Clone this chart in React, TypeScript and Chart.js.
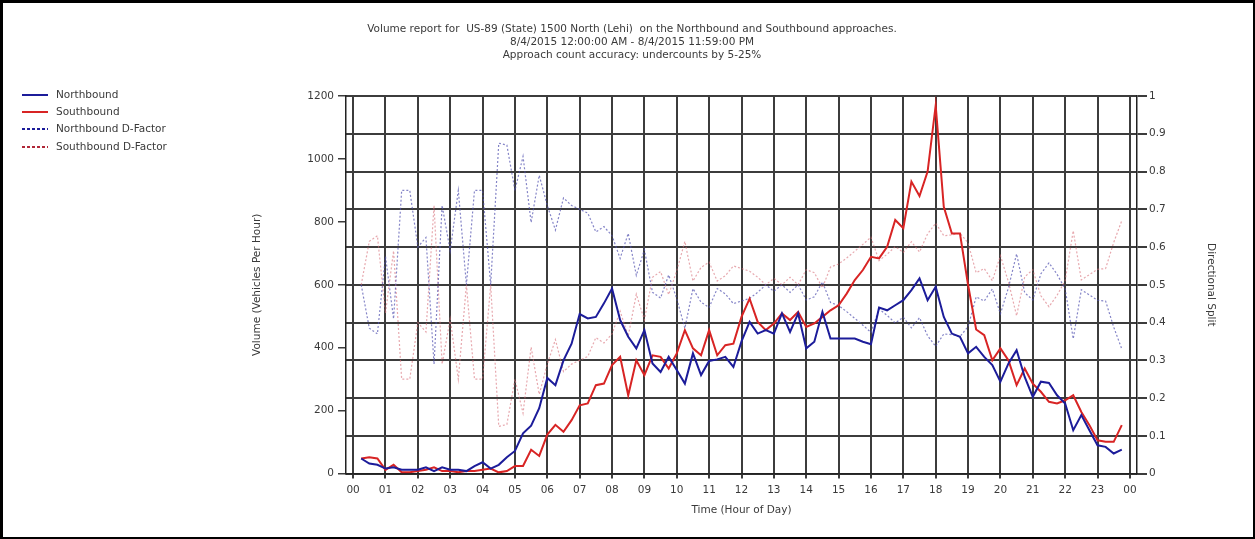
import { useEffect, useRef } from "react";
import { Chart, registerables } from "chart.js";

Chart.register(...registerables);

const TITLE_LINES = [
  "Volume report for  US-89 (State) 1500 North (Lehi)  on the Northbound and Southbound approaches.",
  "8/4/2015 12:00:00 AM - 8/4/2015 11:59:00 PM",
  "Approach count accuracy: undercounts by 5-25%",
];

const LEGEND_LABELS = ["Northbound", "Southbound", "Northbound D-Factor", "Southbound D-Factor"];

const X_TITLE = "Time (Hour of Day)";
const Y_TITLE = "Volume (Vehicles Per Hour)";
const Y2_TITLE = "Directional Split";

const HOUR_TICK_LABELS = [
  "00", "01", "02", "03", "04", "05", "06", "07", "08", "09", "10", "11", "12",
  "13", "14", "15", "16", "17", "18", "19", "20", "21", "22", "23", "00",
];

const TIMES = [
  "00:15", "00:30", "00:45",
  "01:00", "01:15", "01:30", "01:45",
  "02:00", "02:15", "02:30", "02:45",
  "03:00", "03:15", "03:30", "03:45",
  "04:00", "04:15", "04:30", "04:45",
  "05:00", "05:15", "05:30", "05:45",
  "06:00", "06:15", "06:30", "06:45",
  "07:00", "07:15", "07:30", "07:45",
  "08:00", "08:15", "08:30", "08:45",
  "09:00", "09:15", "09:30", "09:45",
  "10:00", "10:15", "10:30", "10:45",
  "11:00", "11:15", "11:30", "11:45",
  "12:00", "12:15", "12:30", "12:45",
  "13:00", "13:15", "13:30", "13:45",
  "14:00", "14:15", "14:30", "14:45",
  "15:00", "15:15", "15:30", "15:45",
  "16:00", "16:15", "16:30", "16:45",
  "17:00", "17:15", "17:30", "17:45",
  "18:00", "18:15", "18:30", "18:45",
  "19:00", "19:15", "19:30", "19:45",
  "20:00", "20:15", "20:30", "20:45",
  "21:00", "21:15", "21:30", "21:45",
  "22:00", "22:15", "22:30", "22:45",
  "23:00", "23:15", "23:30", "23:45",
];

const NORTHBOUND = [
  48, 32, 28,
  16, 20, 12, 12,
  12, 20, 8, 20,
  12, 12, 8, 24,
  36, 16, 28, 52,
  72, 128, 152, 208,
  304, 281, 360, 413,
  507, 493, 498, 541,
  588, 488, 435, 398,
  456, 350, 323, 371,
  329, 286, 382, 313,
  358, 363, 371, 339,
  420, 482, 445, 456,
  445, 509, 450, 509,
  398, 419, 514, 429,
  429, 429, 429, 419,
  411, 528, 519, 535,
  551, 583, 620, 551,
  594, 498, 445, 435,
  382, 403, 371, 345,
  292, 350, 392, 307,
  244, 292, 288, 249,
  223, 138, 186, 138,
  90, 85, 64, 76,
];

const SOUTHBOUND = [
  48, 52, 48,
  12, 28, 4, 4,
  8, 12, 20, 8,
  8, 4, 8, 8,
  12, 16, 4, 8,
  24, 24, 76, 56,
  124, 155, 133, 170,
  217, 223, 281, 286,
  345, 371, 249, 360,
  313, 376, 371, 334,
  382, 456, 398, 376,
  456, 376, 408, 413,
  498, 556, 482, 456,
  477, 509, 488, 514,
  466, 477, 498, 519,
  535, 572, 615, 647,
  689, 684, 721, 806,
  780, 928, 882, 960,
  1170, 848, 763, 763,
  600, 458, 440, 360,
  398, 360, 281, 334,
  286, 260, 228, 223,
  233, 249, 196, 154,
  106, 101, 101, 154,
];

const NORTHBOUND_DFACTOR = [
  0.5, 0.385, 0.37,
  0.575, 0.41, 0.75, 0.75,
  0.6, 0.625, 0.29, 0.71,
  0.59, 0.75, 0.5, 0.75,
  0.75, 0.5, 0.875, 0.87,
  0.75, 0.84, 0.665, 0.79,
  0.71, 0.645, 0.73, 0.71,
  0.7, 0.69, 0.64, 0.654,
  0.63, 0.57, 0.636, 0.525,
  0.593, 0.48, 0.465, 0.526,
  0.463, 0.385, 0.49, 0.454,
  0.44, 0.49, 0.476, 0.45,
  0.457, 0.464, 0.48, 0.5,
  0.483, 0.5, 0.48, 0.5,
  0.46, 0.468, 0.508, 0.453,
  0.445, 0.429, 0.411, 0.393,
  0.374, 0.436, 0.419, 0.399,
  0.414, 0.386, 0.413, 0.365,
  0.337, 0.37, 0.368, 0.363,
  0.389, 0.468, 0.457, 0.489,
  0.423, 0.493, 0.582, 0.479,
  0.46, 0.529, 0.558, 0.528,
  0.489, 0.357, 0.487, 0.473,
  0.459, 0.457, 0.388, 0.33,
];

const SOUTHBOUND_DFACTOR = [
  0.5, 0.615, 0.63,
  0.425, 0.59, 0.25, 0.25,
  0.4, 0.375, 0.71, 0.29,
  0.41, 0.25, 0.5, 0.25,
  0.25, 0.5, 0.125, 0.13,
  0.25, 0.16, 0.335, 0.21,
  0.29, 0.355, 0.27, 0.29,
  0.3, 0.31, 0.36, 0.346,
  0.37, 0.43, 0.364, 0.475,
  0.407, 0.52, 0.535, 0.474,
  0.537, 0.615, 0.51, 0.546,
  0.56, 0.51, 0.524, 0.55,
  0.543, 0.536, 0.52, 0.5,
  0.517, 0.5, 0.52, 0.5,
  0.54, 0.532, 0.492, 0.547,
  0.555, 0.571, 0.589, 0.607,
  0.626, 0.564, 0.581, 0.601,
  0.586, 0.614, 0.587, 0.635,
  0.663, 0.63, 0.632, 0.637,
  0.611, 0.532, 0.543, 0.511,
  0.577, 0.507, 0.418, 0.521,
  0.54, 0.471, 0.442, 0.472,
  0.511, 0.643, 0.513, 0.527,
  0.541, 0.543, 0.612, 0.67,
];

const FONT_FAMILY = "'DejaVu Sans', Verdana, sans-serif";
const FONT_SIZE = 10.5;
const TEXT_COLOR = "#3a3a3a";
const GRID_COLOR = "#3c3c3c";
const NB_COLOR = "#1c1c9a";
const SB_COLOR = "#d82424";
const NBD_COLOR = "rgba(80,80,175,0.7)";
const SBD_COLOR = "rgba(215,110,120,0.6)";

const W = 1255;
const H = 539;

const toHours = (t: string) => {
  const [h, m] = t.split(":").map(Number);
  return h + m / 60;
};

const points = (vals: number[]) => vals.map((v, i) => ({ x: toHours(TIMES[i]), y: v }));

const decorPlugin = {
  id: "decor",
  afterDraw(chart: any) {
    const ctx = chart.ctx as CanvasRenderingContext2D;
    ctx.save();
    ctx.fillStyle = TEXT_COLOR;
    ctx.font = `${FONT_SIZE}px ${FONT_FAMILY}`;
    ctx.textAlign = "center";
    ctx.textBaseline = "middle";
    const titleY = [29, 42, 55];
    TITLE_LINES.forEach((line, i) => ctx.fillText(line, 632, titleY[i]));

    const legendColors = [NB_COLOR, SB_COLOR, NB_COLOR, "#b02838"];
    const legendDash = [[], [], [3, 2], [3, 2]];
    const legendY = [95, 112, 129, 147];
    ctx.textAlign = "left";
    LEGEND_LABELS.forEach((label, i) => {
      ctx.beginPath();
      ctx.setLineDash(legendDash[i]);
      ctx.strokeStyle = legendColors[i];
      ctx.lineWidth = 2;
      ctx.moveTo(22, legendY[i]);
      ctx.lineTo(48, legendY[i]);
      ctx.stroke();
      ctx.setLineDash([]);
      ctx.fillStyle = TEXT_COLOR;
      ctx.fillText(label, 56, legendY[i]);
    });
    ctx.restore();
  },
};

export default function App() {
  const canvasRef = useRef<HTMLCanvasElement | null>(null);

  useEffect(() => {
    document.body.style.margin = "0";
    const canvas = canvasRef.current;
    if (!canvas) return;
    const font = { family: FONT_FAMILY, size: FONT_SIZE };
    const chart = new Chart(canvas, {
      type: "line",
      data: {
        datasets: [
          {
            label: LEGEND_LABELS[0],
            data: points(NORTHBOUND),
            borderColor: NB_COLOR,
            borderWidth: 2,
            pointRadius: 0,
            yAxisID: "y",
          },
          {
            label: LEGEND_LABELS[1],
            data: points(SOUTHBOUND),
            borderColor: SB_COLOR,
            borderWidth: 2,
            pointRadius: 0,
            yAxisID: "y",
          },
          {
            label: LEGEND_LABELS[2],
            data: points(NORTHBOUND_DFACTOR),
            borderColor: NBD_COLOR,
            borderWidth: 1.2,
            borderDash: [2, 2],
            pointRadius: 0,
            yAxisID: "y1",
          },
          {
            label: LEGEND_LABELS[3],
            data: points(SOUTHBOUND_DFACTOR),
            borderColor: SBD_COLOR,
            borderWidth: 1.2,
            borderDash: [2, 2],
            pointRadius: 0,
            yAxisID: "y1",
          },
        ],
      },
      options: {
        responsive: false,
        animation: false,
        devicePixelRatio: 1,
        layout: { padding: { left: 251.4, right: 38.4, top: 96, bottom: 22.4 } },
        plugins: {
          legend: { display: false },
          tooltip: { enabled: false },
          title: { display: false },
        },
        scales: {
          x: {
            type: "linear",
            min: -0.22,
            max: 24.22,
            ticks: {
              stepSize: 1,
              includeBounds: false,
              autoSkip: false,
              maxRotation: 0,
              minRotation: 0,
              padding: 5,
              color: TEXT_COLOR,
              font,
              callback: (v: any) => HOUR_TICK_LABELS[Math.round(Number(v))] ?? "",
            },
            grid: {
              color: GRID_COLOR,
              lineWidth: 2,
              drawTicks: true,
              tickLength: 5,
              tickColor: GRID_COLOR,
            },
            border: { display: true, color: "#222", width: 1.5 },
            title: { display: true, text: X_TITLE, color: TEXT_COLOR, font, padding: 0 },
            afterFit: (s: any) => {
              s.height = 43;
            },
          },
          y: {
            type: "linear",
            position: "left",
            min: 0,
            max: 1200,
            ticks: {
              stepSize: 200,
              padding: 4,
              color: TEXT_COLOR,
              font,
              callback: (v: any) => String(v),
            },
            grid: {
              drawOnChartArea: false,
              drawTicks: true,
              tickLength: 8,
              color: GRID_COLOR,
              tickColor: GRID_COLOR,
              lineWidth: 1.5,
            },
            border: { display: true, color: "#222", width: 1.5 },
            title: { display: true, text: Y_TITLE, color: TEXT_COLOR, font, padding: 0 },
            afterFit: (s: any) => {
              s.width = 94.6;
            },
          },
          y1: {
            type: "linear",
            position: "right",
            min: 0,
            max: 1,
            ticks: {
              stepSize: 0.1,
              padding: 2,
              color: TEXT_COLOR,
              font,
              callback: (v: any) => String(Math.round(Number(v) * 10) / 10),
            },
            grid: {
              drawOnChartArea: true,
              drawTicks: true,
              tickLength: 10,
              color: GRID_COLOR,
              tickColor: GRID_COLOR,
              lineWidth: 2,
            },
            border: { display: true, color: "#222", width: 1.5 },
            title: { display: true, text: Y2_TITLE, color: TEXT_COLOR, font, padding: 0 },
            afterFit: (s: any) => {
              s.width = 79.6;
            },
          },
        },
      },
      plugins: [decorPlugin],
    } as any);
    return () => chart.destroy();
  }, []);

  return (
    <div style={{ position: "relative", width: W, height: H, background: "#fff" }}>
      <canvas ref={canvasRef} width={W} height={H} style={{ display: "block", width: W, height: H }} />
      <div
        style={{
          position: "absolute",
          left: 0,
          top: 0,
          width: W,
          height: H,
          boxSizing: "border-box",
          borderStyle: "solid",
          borderColor: "#000",
          borderWidth: "3px 2px 2px 3px",
          pointerEvents: "none",
        }}
      />
    </div>
  );
}
